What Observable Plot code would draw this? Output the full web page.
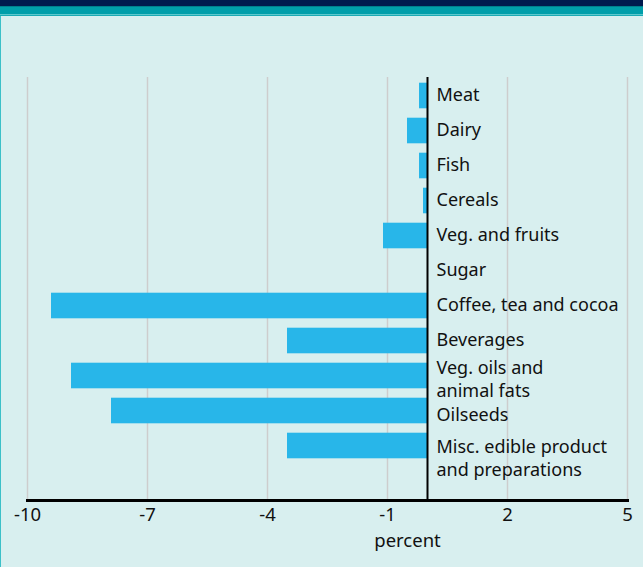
<!DOCTYPE html>
<html>
<head>
<meta charset="utf-8">
<script src="https://cdn.jsdelivr.net/npm/d3@7"></script>
<script src="https://cdn.jsdelivr.net/npm/@observablehq/plot@0.6"></script>
<style>
  html, body { margin: 0; padding: 0; background: #d8efef; }
  #wrap { position: relative; width: 643px; height: 567px; overflow: hidden; background: #d8efef; }
  #navy { position: absolute; left: 0; top: 0; width: 643px; height: 6px; background: #001a4e; }
  #teal { position: absolute; left: 0; top: 6px; width: 643px; height: 8px; background: #009eaa; border-top: 1px solid #007f8c; box-sizing: border-box; }
  #thin1 { position: absolute; left: 0; top: 14px; width: 643px; height: 1px; background: #5cc8cc; }
  #thin2 { position: absolute; left: 0; top: 15px; width: 643px; height: 1px; background: #1aaab4; }
  #leftb { position: absolute; left: 0; top: 16px; width: 1px; height: 551px; background: #3cc0c8; }
  #chart { position: absolute; left: 0; top: 16px; }
  svg { font-family: "Noto Sans", sans-serif; }
</style>
</head>
<body>
<div id="wrap">
  <div id="navy"></div>
  <div id="teal"></div>
  <div id="thin1"></div>
  <div id="thin2"></div>
  <div id="chart"></div>
  <div id="leftb"></div>
</div>
<script>
const categories = [
  "Meat",
  "Dairy",
  "Fish",
  "Cereals",
  "Veg. and fruits",
  "Sugar",
  "Coffee, tea and cocoa",
  "Beverages",
  "Veg. oils and\nanimal fats",
  "Oilseeds",
  "Misc. edible product\nand preparations"
];
const values = [-0.2, -0.5, -0.2, -0.1, -1.1, 0, -9.4, -3.5, -8.9, -7.9, -3.5];
const xTicks = [-10, -7, -4, -1, 2, 5];
const xLabel = "percent";

const data = categories.map((c, i) => ({category: c, value: values[i]}));
const lastCat = categories[categories.length - 1];
const oilCat = categories[9];
const single = data.filter(d => !d.category.includes("\n") && d.category !== oilCat);
const oil = data.filter(d => d.category === oilCat);
const multiMid = data.filter(d => d.category.includes("\n") && d.category !== lastCat);
const multiLast = data.filter(d => d.category === lastCat);
const fs = 18;
const labelOpts = {x: 0, y: "category", text: "category", textAnchor: "start", dx: 9, fontSize: fs, lineHeight: 1.26, fill: "#111"};

const chart = Plot.plot({
  width: 643,
  height: 551,
  marginLeft: 27,
  marginRight: 16,
  marginTop: 61,
  marginBottom: 67,
  style: {background: "transparent", fontFamily: "Noto Sans, sans-serif", color: "#111"},
  x: {domain: [-10, 5], ticks: xTicks},
  y: {domain: categories, range: [60, 449], padding: 0, axis: null},
  marks: [
    Plot.gridX(xTicks, {stroke: "#cdcdcd", strokeOpacity: 1, strokeWidth: 1.5}),
    Plot.barX(data, {x: "value", y: "category", fill: "#28b6e9", insetTop: 4.7, insetBottom: 4.7}),
    Plot.ruleX([0], {stroke: "#000", strokeWidth: 2}),
    Plot.frame({anchor: "bottom", stroke: "#000", strokeWidth: 3}),
    Plot.axisX(xTicks, {tickSize: 0, tickPadding: 7, fontSize: 18.5, tickFormat: d => String(d), label: null, fill: "#111"}),
    Plot.text([xLabel], {x: -0.5, frameAnchor: "bottom", dy: 46, fontSize: 18.5, fill: "#111"}),
    Plot.text(single, {...labelOpts, dy: -2}),
    Plot.text(oil, {...labelOpts, dy: 3}),
    Plot.text(multiMid, {...labelOpts, dy: 2}),
    Plot.text(multiLast, {...labelOpts, dy: 11})
  ]
});
document.getElementById("chart").appendChild(chart);
</script>
</body>
</html>
